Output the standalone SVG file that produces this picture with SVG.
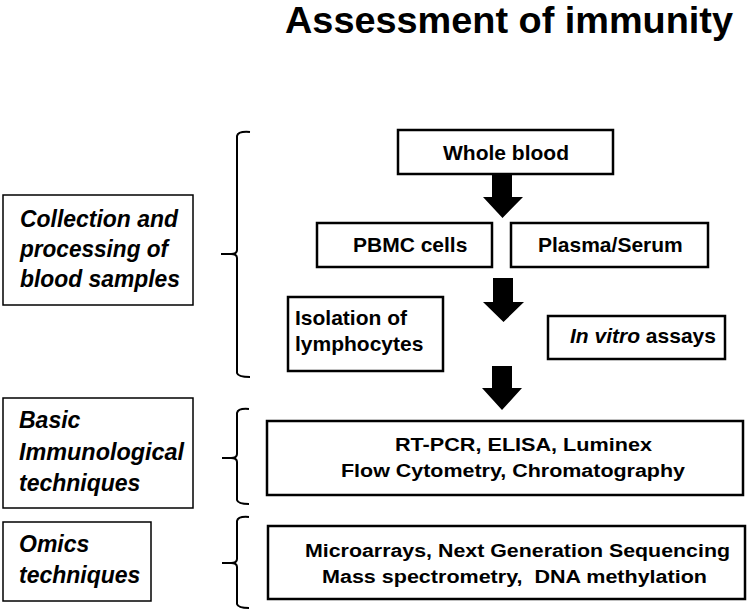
<svg xmlns="http://www.w3.org/2000/svg" width="748" height="613" viewBox="0 0 748 613">
<style>
text{font-family:"Liberation Sans",Arial,Helvetica,sans-serif;font-weight:bold;fill:#000}
.cat{font-size:23px;font-style:italic}
.mid{font-size:21px}
.tech{font-size:18px}
.box{fill:#fff;stroke:#000;stroke-width:1.5}
.tbox{fill:#fff;stroke:#000;stroke-width:2.5}
.brace{fill:none;stroke:#000;stroke-width:2}
.arrow{fill:#000}
</style>
<rect width="748" height="613" fill="#fff"/>
<text x="285" y="33" font-size="36" textLength="448" lengthAdjust="spacingAndGlyphs">Assessment of immunity</text>

<g id="cat-collection">
<rect class="box" x="3" y="195" width="190" height="110"/>
<text class="cat" x="20" y="227" textLength="158" lengthAdjust="spacingAndGlyphs">Collection and</text>
<text class="cat" x="20" y="257" textLength="148" lengthAdjust="spacingAndGlyphs">processing of</text>
<text class="cat" x="20" y="287" textLength="160" lengthAdjust="spacingAndGlyphs">blood samples</text>
</g>
<g id="cat-basic">
<rect class="box" x="3" y="398" width="190" height="110"/>
<text class="cat" x="19" y="428">Basic</text>
<text class="cat" x="19" y="460" textLength="165" lengthAdjust="spacingAndGlyphs">Immunological</text>
<text class="cat" x="19" y="491">techniques</text>
</g>
<g id="cat-omics">
<rect class="box" x="3" y="522" width="148" height="79"/>
<text class="cat" x="19" y="552">Omics</text>
<text class="cat" x="19" y="583">techniques</text>
</g>

<g id="whole-blood">
<rect class="tbox" x="398" y="130" width="215" height="44"/>
<text class="mid" x="506" y="160" text-anchor="middle">Whole blood</text>
</g>
<g id="pbmc">
<rect class="tbox" x="317" y="223" width="175" height="44"/>
<text class="mid" x="353" y="252">PBMC cells</text>
</g>
<g id="plasma">
<rect class="tbox" x="511" y="223" width="197" height="44"/>
<text class="mid" x="538" y="252">Plasma/Serum</text>
</g>
<g id="isolation">
<rect class="tbox" x="288" y="297" width="155" height="74"/>
<text class="mid" x="295" y="325">Isolation of</text>
<text class="mid" x="295" y="351">lymphocytes</text>
</g>
<g id="invitro">
<rect class="tbox" x="548" y="316" width="177" height="43"/>
<text class="mid" x="570" y="343"><tspan font-style="italic">In vitro</tspan> assays</text>
</g>
<g id="basic-tech">
<rect class="tbox" x="267" y="421" width="476" height="74"/>
<text class="tech" x="395" y="451" textLength="257" lengthAdjust="spacingAndGlyphs">RT-PCR, ELISA, Luminex</text>
<text class="tech" x="341" y="477" textLength="344" lengthAdjust="spacingAndGlyphs">Flow Cytometry, Chromatography</text>
</g>
<g id="omics-tech">
<rect class="tbox" x="268" y="526" width="477" height="73"/>
<text class="tech" x="305" y="557" textLength="425" lengthAdjust="spacingAndGlyphs">Microarrays, Next Generation Sequencing</text>
<text class="tech" x="322" y="583" textLength="385" lengthAdjust="spacingAndGlyphs" xml:space="preserve">Mass spectrometry,  DNA methylation</text>
</g>

<g id="connectors">
<polygon class="arrow" points="492,174 512,174 512,197 523,197 502.5,218 483,197 492,197"/>
<polygon class="arrow" points="493,278 513,278 513,302 524,302 503.5,322 483,302 493,302"/>
<polygon class="arrow" points="492,366 512,366 512,388 522,388 502,410 482,388 492,388"/>
<path class="brace" d="M250,132 Q238,131 237,136 L237,250 Q237,254 231,254 L221,254 M231,254 Q237,254 237,258 L237,373 Q238,377 250,377"/>
<path class="brace" d="M249,409 Q238,408 237,413 L237,454 Q237,458 231,458 L222,458 M231,458 Q237,458 237,462 L237,500 Q238,504 249,504"/>
<path class="brace" d="M249,517 Q238,516 237,521 L237,559 Q237,563 231,563 L222,563 M231,563 Q237,563 237,567 L237,604 Q238,608 249,608"/>
</g>
</svg>
